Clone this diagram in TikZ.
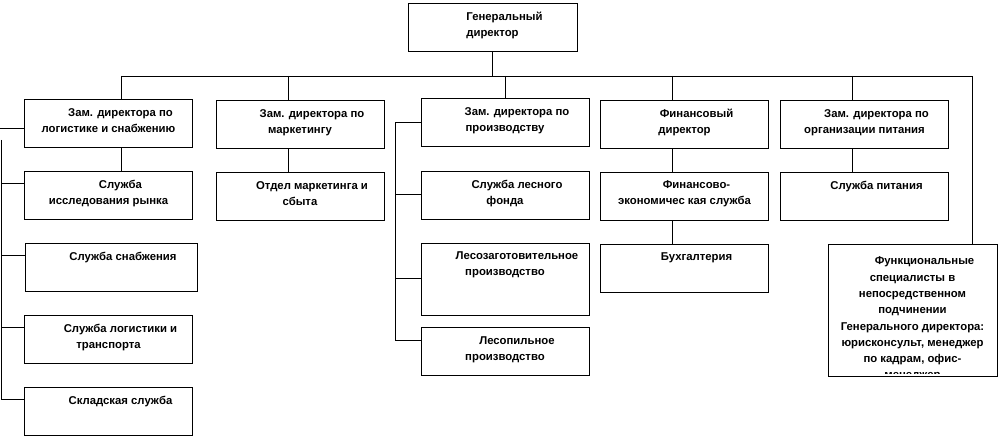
\documentclass[tikz,border=0pt]{standalone}
\usepackage{fontspec}
\setmainfont{Liberation Sans}
\begin{document}
\begin{tikzpicture}[
    x=0.75pt, y=-0.75pt,
    unit/.style={draw, line width=0.7pt, minimum width=126pt, minimum height=36pt, inner sep=0pt},
    txt/.style={anchor=north, yshift=-7pt, inner sep=0pt, align=center,
                font=\fontsize{8.5}{12}\selectfont\bfseries},
    link/.style={line width=0.7pt},
  ]
  \useasboundingbox (0,0) rectangle (1000,438);

  % === Top ===
  \node[unit, minimum width=126.75pt] (gd) at (492.5,27) {};
  \node[txt] (gd-t) at (gd.north) {\hspace*{18pt}Генеральный\\директор};

  % === Deputies ===
  \node[unit] (zl) at (108.5,123) {};
  \node[unit] (zm) at (300,124)   {};
  \node[unit] (zp) at (505,122.5) {};
  \node[unit] (fd) at (684.5,124) {};
  \node[unit] (zo) at (864.5,124) {};
  \node[txt] (zl-t) at (zl.north) {\hspace*{18pt}Зам. директора по\\логистике и снабжению};
  \node[txt] (zm-t) at (zm.north) {\hspace*{18pt}Зам. директора по\\маркетингу};
  \node[txt] (zp-t) at (zp.north) {\hspace*{18pt}Зам. директора по\\производству};
  \node[txt] (fd-t) at (fd.north) {\hspace*{18pt}Финансовый\\директор};
  \node[txt] (zo-t) at (zo.north) {\hspace*{18pt}Зам. директора по\\организации питания};

  % === Services ===
  \node[unit] (ir) at (108.5,195.5) {};
  \node[unit] (om) at (300,196)     {};
  \node[unit] (lf) at (505,195.5)   {};
  \node[unit] (fe) at (684.5,196)   {};
  \node[unit] (sp) at (864.5,196)   {};
  \node[txt] (ir-t) at (ir.north) {\hspace*{18pt}Служба\\исследования рынка};
  \node[txt] (om-t) at (om.north) {\hspace*{18pt}Отдел маркетинга и\\сбыта};
  \node[txt] (lf-t) at (lf.north) {\hspace*{18pt}Служба лесного\\фонда};
  \node[txt] (fe-t) at (fe.north) {\hspace*{18pt}Финансово-\\экономичес кая служба};
  \node[txt] (sp-t) at (sp.north) {\hspace*{18pt}Служба питания};

  \node[unit, minimum width=129pt] (sn) at (111,267) {};
  \node[unit] (lt) at (108.5,339) {};
  \node[unit] (sk) at (108.5,411) {};
  \node[unit, minimum height=54pt] (lz) at (505,279) {};
  \node[unit] (lp) at (505,351.5) {};
  \node[unit] (bu) at (684.5,268) {};
  \node[txt] (sn-t) at (sn.north) {\hspace*{18pt}Служба снабжения};
  \node[txt] (lt-t) at (lt.north) {\hspace*{18pt}Служба логистики и\\транспорта};
  \node[txt] (sk-t) at (sk.north) {\hspace*{18pt}Складская служба};
  \node[txt] (lz-t) at (lz.north) {\hspace*{18pt}Лесозаготовительное\\производство};
  \node[txt] (lp-t) at (lp.north) {\hspace*{18pt}Лесопильное\\производство};
  \node[txt] (bu-t) at (bu.north) {\hspace*{18pt}Бухгалтерия};

  % === Functional specialists (last line cut by the box) ===
  \node[unit, minimum width=126.75pt, minimum height=99pt] (fs) at (912.5,310) {};
  \begin{scope}
    \clip (fs.north west) rectangle ([yshift=2.5pt]fs.south east);
    \node[txt, yshift=-3pt, font=\fontsize{8.5}{12.2}\selectfont\bfseries] (fs-t) at (fs.north)
      {\hspace*{18pt}Функциональные\\специалисты в\\непосредственном\\подчинении\\Генерального директора:\\юрисконсульт, менеджер\\по кадрам, офис-\\менеджер};
  \end{scope}

  % === Bus ===
  \coordinate (b1) at (121,76);
  \coordinate (b2) at (288,76);
  \coordinate (b3) at (505,76);
  \coordinate (b4) at (672,76);
  \coordinate (b5) at (852,76);
  \coordinate (b6) at (972,76);
  \draw[link] (gd.south) -- (gd.south |- b1);
  \draw[link] (b1) -- (b6) -- (b6 |- fs.north);
  \foreach \b/\n in {b1/zl, b2/zm, b3/zp, b4/fd, b5/zo}
    \draw[link] (\b) -- (\b |- \n.north);

  % === Vertical links ===
  \draw[link] (b1 |- zl.south) -- (b1 |- ir.north);
  \draw[link] (b2 |- zm.south) -- (b2 |- om.north);
  \draw[link] (b4 |- fd.south) -- (b4 |- fe.north);
  \draw[link] (b4 |- fe.south) -- (b4 |- bu.north);
  \draw[link] (b5 |- zo.south) -- (b5 |- sp.north);

  % === Left bracket ===
  \draw[link] (0,128) -- (zl.west |- 0,128);
  \coordinate (lb) at (1,140);
  \draw[link] (lb) -- (lb |- 0,399);
  \foreach \n/\y in {ir/183, sn/255, lt/327, sk/399}
    \draw[link] (lb |- 0,\y) -- (\n.west |- 0,\y);

  % === Production bracket ===
  \draw[link] (zp.west) -- ++(-25,0) coordinate (pb) -- (pb |- 0,341);
  \foreach \n/\y in {lf/194, lz/278, lp/340}
    \draw[link] (pb |- 0,\y) -- (\n.west |- 0,\y);

\end{tikzpicture}
\end{document}
